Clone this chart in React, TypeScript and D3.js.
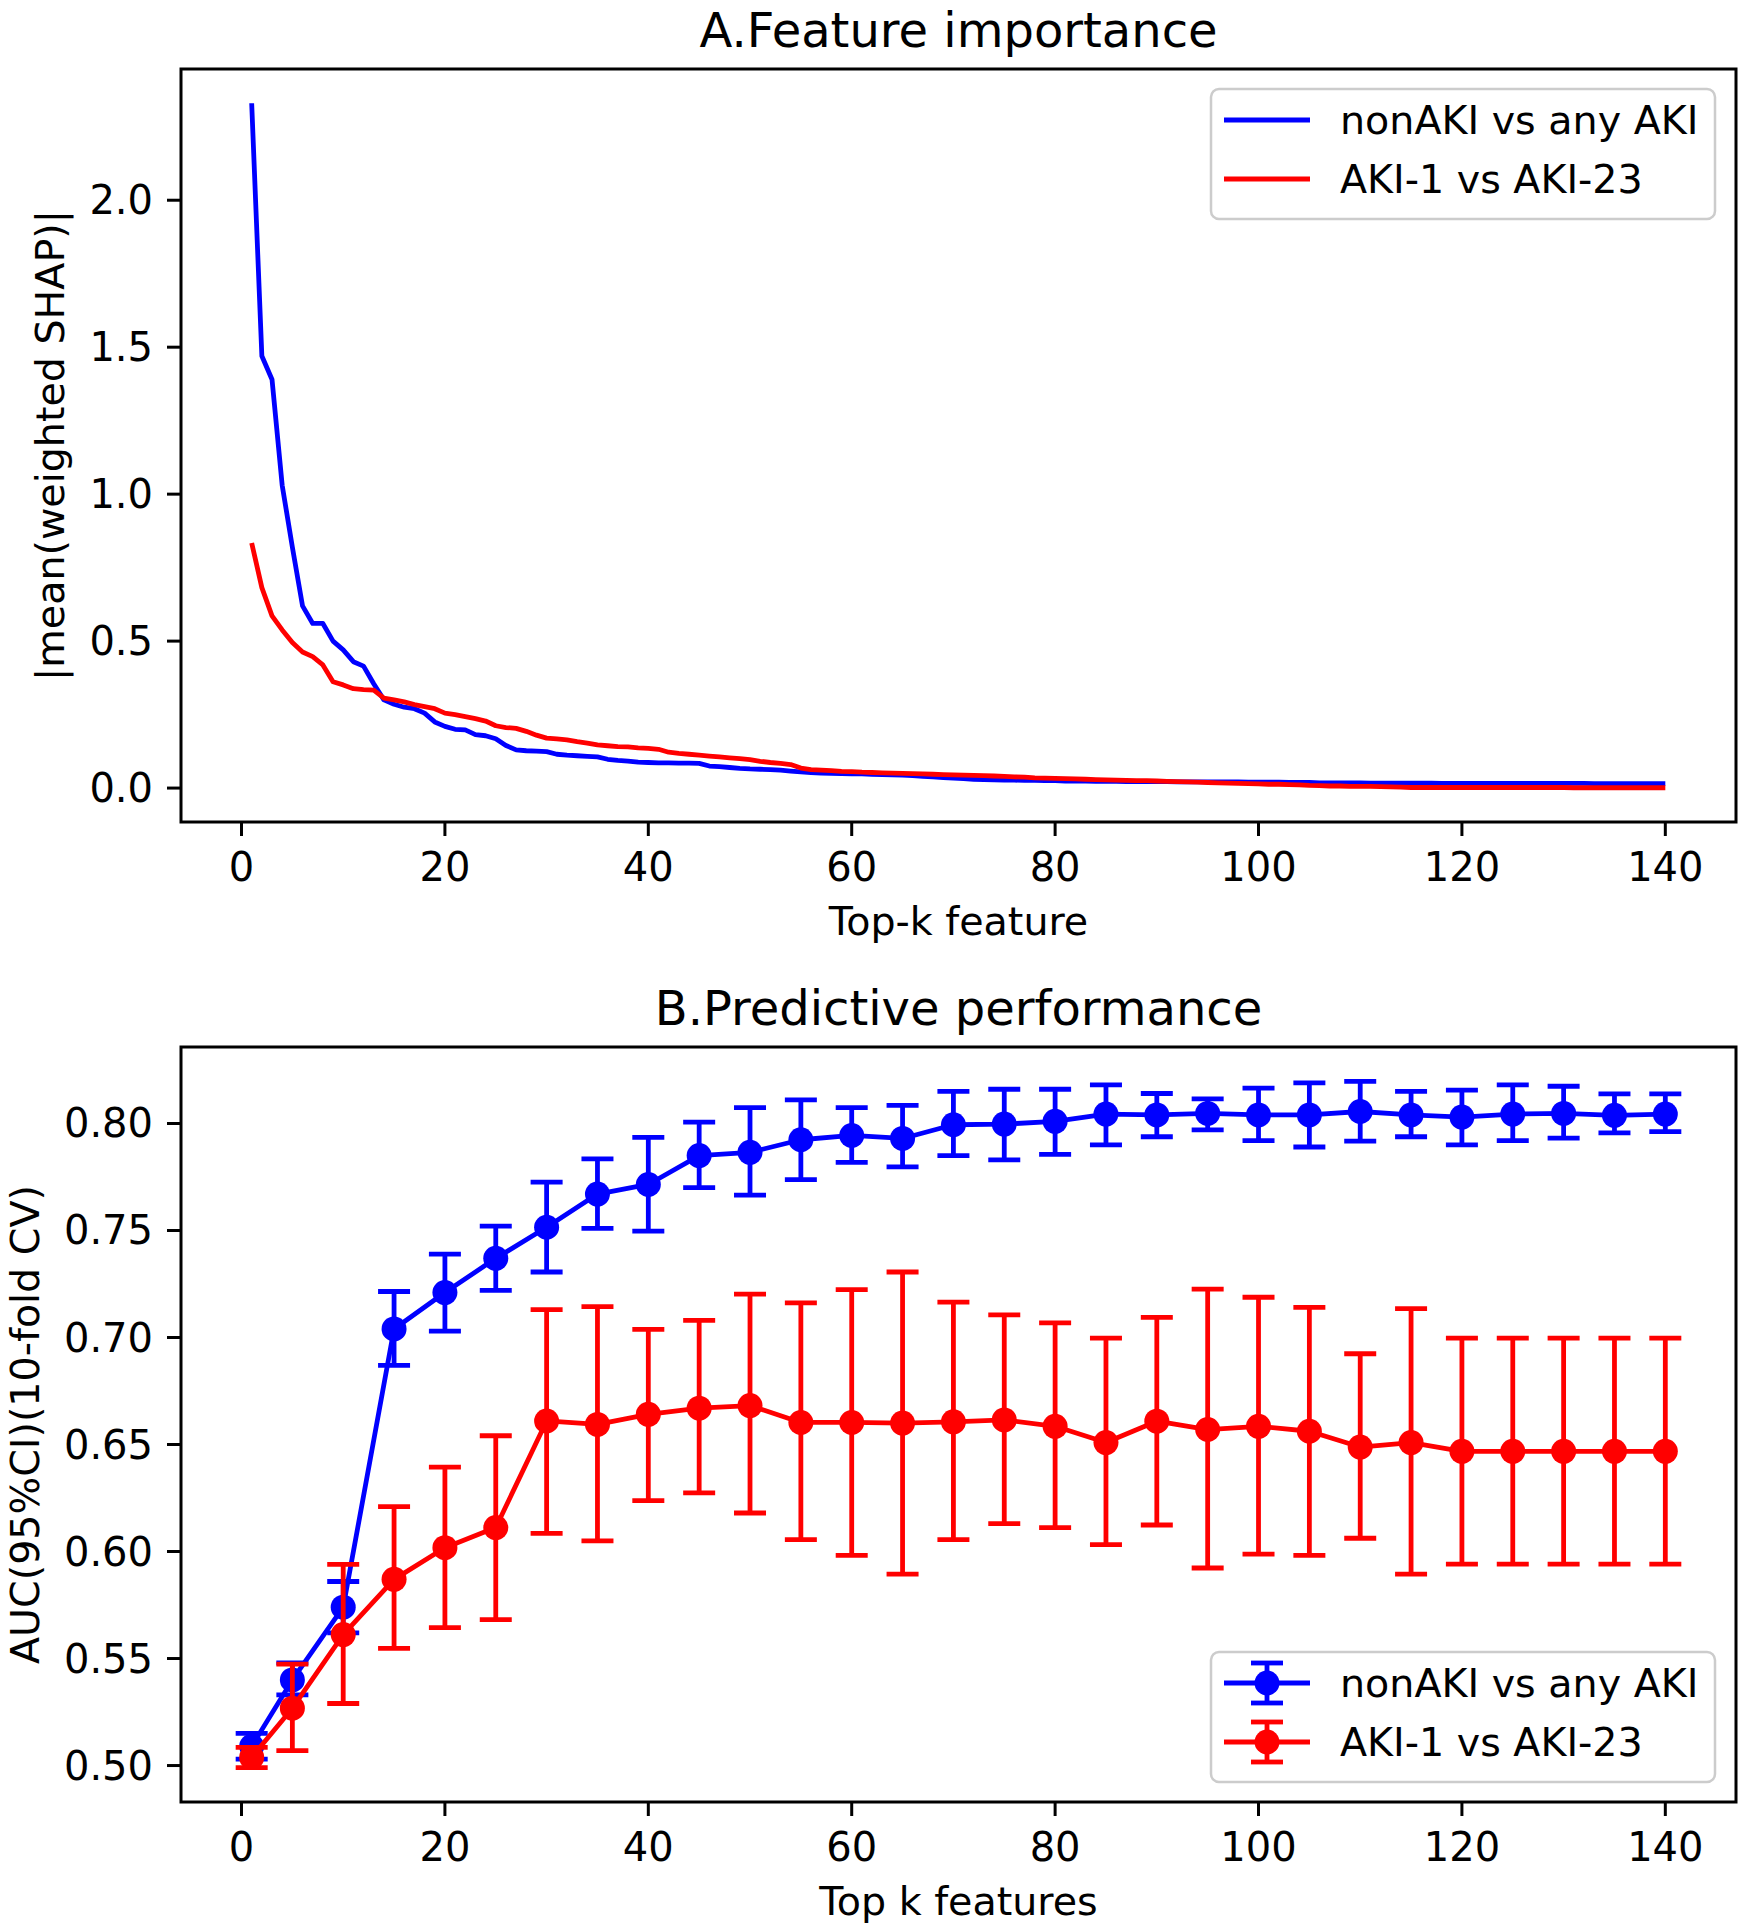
import React from "react";
import * as d3 from "d3";

// ---- data ----
const topK = d3.range(1, 141);

// panel A: |mean(weighted SHAP)| for the top-k feature
const shapNonAki = [
  2.33, 1.47, 1.39, 1.03, 0.82, 0.62, 0.56, 0.56, 0.5, 0.47,
  0.43, 0.415, 0.355, 0.3, 0.285, 0.275, 0.27, 0.255, 0.225, 0.21,
  0.2, 0.198, 0.182, 0.178, 0.168, 0.145, 0.13, 0.127, 0.126, 0.124,
  0.115, 0.112, 0.11, 0.108, 0.106, 0.098, 0.094, 0.092, 0.088, 0.087,
  0.086, 0.086, 0.085, 0.085, 0.084, 0.075, 0.073, 0.07, 0.067, 0.065,
  0.064, 0.063, 0.061, 0.058, 0.055, 0.053, 0.051, 0.05, 0.049, 0.048,
  0.048, 0.047, 0.046, 0.045, 0.044, 0.042, 0.04, 0.038, 0.036, 0.034,
  0.032, 0.03, 0.029, 0.028, 0.027, 0.027, 0.026, 0.026, 0.025, 0.025,
  0.024, 0.024, 0.024, 0.023, 0.023, 0.023, 0.022, 0.022, 0.022, 0.022,
  0.022, 0.021, 0.021, 0.021, 0.021, 0.021, 0.021, 0.021, 0.02, 0.02,
  0.02, 0.02, 0.019, 0.019, 0.019, 0.018, 0.018, 0.018, 0.018, 0.018,
  0.017, 0.017, 0.017, 0.017, 0.017, 0.017, 0.017, 0.016, 0.016, 0.016,
  0.016, 0.016, 0.016, 0.016, 0.016, 0.016, 0.016, 0.016, 0.016, 0.016,
  0.016, 0.016, 0.015, 0.015, 0.015, 0.015, 0.015, 0.015, 0.015, 0.015,
];
const shapAki1 = [
  0.834, 0.682, 0.586, 0.538, 0.495, 0.463, 0.447, 0.419, 0.362, 0.351,
  0.338, 0.335, 0.333, 0.306, 0.3, 0.293, 0.284, 0.277, 0.27, 0.255,
  0.25, 0.243, 0.236, 0.228, 0.212, 0.206, 0.203, 0.193, 0.18, 0.17,
  0.167, 0.164, 0.158, 0.153, 0.147, 0.144, 0.141, 0.14, 0.137, 0.135,
  0.132, 0.122, 0.118, 0.115, 0.112, 0.109, 0.106, 0.103, 0.1, 0.097,
  0.091, 0.087, 0.084, 0.08, 0.068, 0.063, 0.061, 0.059, 0.057, 0.056,
  0.054, 0.053, 0.052, 0.051, 0.05, 0.049, 0.048, 0.047, 0.046, 0.045,
  0.044, 0.043, 0.042, 0.041, 0.04, 0.038, 0.037, 0.035, 0.034, 0.033,
  0.032, 0.031, 0.03, 0.029, 0.028, 0.027, 0.026, 0.025, 0.025, 0.024,
  0.023, 0.022, 0.021, 0.02, 0.019, 0.018, 0.017, 0.016, 0.015, 0.014,
  0.013, 0.013, 0.012, 0.011, 0.009, 0.008, 0.007, 0.007, 0.006, 0.006,
  0.006, 0.005, 0.004, 0.003, 0.002, 0.002, 0.002, 0.002, 0.002, 0.002,
  0.002, 0.002, 0.002, 0.002, 0.002, 0.002, 0.002, 0.002, 0.002, 0.002,
  0.001, 0.001, 0.001, 0.001, 0.001, 0.001, 0.001, 0.001, 0.001, 0.001,
];

// panel B: AUC with 95% CI
const kSteps = [1, 5, 10, 15, 20, 25, 30, 35, 40, 45, 50, 55, 60, 65, 70, 75, 80, 85, 90, 95, 100, 105, 110, 115, 120, 125, 130, 135, 140];
const aucNonAki = [0.509, 0.54, 0.574, 0.704, 0.721, 0.737, 0.7515, 0.767, 0.7715, 0.785, 0.7865, 0.7924, 0.7944, 0.793, 0.7994, 0.7997, 0.801, 0.8044, 0.804, 0.8047, 0.804, 0.804, 0.8056, 0.804, 0.803, 0.8044, 0.8047, 0.8038, 0.8044];
const hiNonAki = [0.515, 0.548, 0.586, 0.7215, 0.739, 0.752, 0.7726, 0.7835, 0.7935, 0.8006, 0.8074, 0.811, 0.8074, 0.8085, 0.815, 0.816, 0.816, 0.818, 0.814, 0.8115, 0.8165, 0.819, 0.8197, 0.815, 0.8156, 0.818, 0.8174, 0.8138, 0.8138];
const loNonAki = [0.503, 0.533, 0.562, 0.687, 0.703, 0.722, 0.7306, 0.751, 0.7497, 0.77, 0.7665, 0.7738, 0.7818, 0.7797, 0.785, 0.783, 0.7856, 0.79, 0.7938, 0.797, 0.792, 0.789, 0.7918, 0.7938, 0.79, 0.792, 0.7932, 0.7956, 0.7962];
const aucAki1 = [0.5038, 0.5268, 0.5612, 0.587, 0.6018, 0.6112, 0.661, 0.6594, 0.6641, 0.667, 0.6682, 0.6603, 0.6603, 0.66, 0.6606, 0.6615, 0.6585, 0.6509, 0.6609, 0.657, 0.6585, 0.6562, 0.6488, 0.6509, 0.6468, 0.6468, 0.6468, 0.6468, 0.6468];
const hiAki1 = [0.5085, 0.5474, 0.594, 0.621, 0.6394, 0.6541, 0.713, 0.7144, 0.7038, 0.708, 0.7203, 0.7162, 0.7224, 0.7306, 0.7165, 0.7106, 0.7068, 0.6997, 0.7094, 0.7226, 0.7188, 0.7141, 0.6924, 0.7135, 0.6997, 0.6997, 0.6997, 0.6997, 0.6997];
const loAki1 = [0.499, 0.507, 0.529, 0.5547, 0.5644, 0.5682, 0.6085, 0.605, 0.6238, 0.6274, 0.618, 0.6056, 0.5982, 0.5894, 0.6056, 0.613, 0.6112, 0.6032, 0.6124, 0.5923, 0.5988, 0.5982, 0.6062, 0.5894, 0.5941, 0.5941, 0.5941, 0.5941, 0.5941];

const xTicks = [0, 20, 40, 60, 80, 100, 120, 140];
const shapTicks = [0, 0.5, 1, 1.5, 2];
const aucTicks = [0.5, 0.55, 0.6, 0.65, 0.7, 0.75, 0.8];
const seriesNames = ["nonAKI vs any AKI", "AKI-1 vs AKI-23"];

// ---- layout ----
const W = 1747;
const H = 1932;
const LEFT = 181;
const RIGHT = 1736;
const A = { top: 69, bottom: 822 };
const B = { top: 1047, bottom: 1802 };
const FONT = "DejaVu Sans, Verdana, sans-serif";
const BLUE = "#0000ff";
const RED = "#ff0000";
const LW = 4.8;

// matplotlib style 5% margins
const pad = (lo: number, hi: number): [number, number] => {
  const m = (hi - lo) * 0.05;
  return [lo - m, hi + m];
};

const xScale = d3.scaleLinear().domain(pad(1, 140)).range([LEFT, RIGHT]);
const yA = d3
  .scaleLinear()
  .domain(pad(d3.min([...shapNonAki, ...shapAki1])!, d3.max([...shapNonAki, ...shapAki1])!))
  .range([A.bottom, A.top]);
const yB = d3
  .scaleLinear()
  .domain(pad(d3.min([...loNonAki, ...loAki1])!, d3.max([...hiNonAki, ...hiAki1])!))
  .range([B.bottom, B.top]);

function Axes({ top, bottom, yScale, yTicks, yFmt, title, xLabel, yLabel, yLabelX, children }: any) {
  const cx = (LEFT + RIGHT) / 2;
  const cy = (top + bottom) / 2;
  return (
    <g>
      {children}
      <rect x={LEFT} y={top} width={RIGHT - LEFT} height={bottom - top} fill="none" stroke="#000" strokeWidth={3} />
      {xTicks.map((t) => (
        <g key={"x" + t}>
          <line x1={xScale(t)} x2={xScale(t)} y1={bottom} y2={bottom + 14} stroke="#000" strokeWidth={3} />
          <text x={xScale(t)} y={bottom + 59} textAnchor="middle" fontSize={40}>
            {t}
          </text>
        </g>
      ))}
      {yTicks.map((t: number) => (
        <g key={"y" + t}>
          <line x1={LEFT - 14} x2={LEFT} y1={yScale(t)} y2={yScale(t)} stroke="#000" strokeWidth={3} />
          <text x={LEFT - 28} y={yScale(t) + 14} textAnchor="end" fontSize={40}>
            {d3.format(yFmt)(t)}
          </text>
        </g>
      ))}
      <text x={cx} y={top - 22} textAnchor="middle" fontSize={48}>
        {title}
      </text>
      <text x={cx} y={bottom + 113} textAnchor="middle" fontSize={39.6}>
        {xLabel}
      </text>
      <text transform={`translate(${yLabelX},${cy}) rotate(-90)`} textAnchor="middle" fontSize={39.6}>
        {yLabel}
      </text>
    </g>
  );
}

function LegendBox({ y, children }: any) {
  return (
    <g>
      <rect x={RIGHT - 21 - 504} y={y} width={504} height={130} rx={8} fill="#fff" fillOpacity={0.8} stroke="#cccccc" strokeWidth={2.5} />
      {children}
    </g>
  );
}

function ErrSeries({ auc, lo, hi, color }: any) {
  const line = d3
    .line<number>()
    .x((_, i) => xScale(kSteps[i]))
    .y((d) => yB(d));
  return (
    <g>
      <path d={line(auc) ?? ""} fill="none" stroke={color} strokeWidth={LW} strokeLinejoin="round" />
      {kSteps.map((k, i) => {
        const x = xScale(k);
        return (
          <g key={k} stroke={color} strokeWidth={LW}>
            <line x1={x} x2={x} y1={yB(lo[i])} y2={yB(hi[i])} />
            <line x1={x - 16} x2={x + 16} y1={yB(lo[i])} y2={yB(lo[i])} />
            <line x1={x - 16} x2={x + 16} y1={yB(hi[i])} y2={yB(hi[i])} />
          </g>
        );
      })}
      {kSteps.map((k, i) => (
        <circle key={"m" + k} cx={xScale(k)} cy={yB(auc[i])} r={12.5} fill={color} />
      ))}
    </g>
  );
}

export default function App() {
  const shapLine = d3
    .line<number>()
    .x((_, i) => xScale(topK[i]))
    .y((d) => yA(d));

  const legA = A.top + 20;
  const legB = B.bottom - 20 - 130;
  const lx0 = RIGHT - 21 - 504 + 13;
  const lx1 = lx0 + 86;
  const tx = RIGHT - 21 - 504 + 129;
  const colors = [BLUE, RED];

  return (
    <svg
      width={W}
      height={H}
      viewBox={`0 0 ${W} ${H}`}
      style={{ position: "absolute", left: 0, top: 0, background: "#fff" }}
      fontFamily={FONT}
      fill="#000"
    >
      <rect width={W} height={H} fill="#fff" />

      <Axes
        top={A.top}
        bottom={A.bottom}
        yScale={yA}
        yTicks={shapTicks}
        yFmt=".1f"
        title="A.Feature importance"
        xLabel="Top-k feature"
        yLabel="|mean(weighted SHAP)|"
        yLabelX={64}
      >
        <path d={shapLine(shapNonAki) ?? ""} fill="none" stroke={BLUE} strokeWidth={LW} strokeLinejoin="round" />
        <path d={shapLine(shapAki1) ?? ""} fill="none" stroke={RED} strokeWidth={LW} strokeLinejoin="round" />
      </Axes>
      <LegendBox y={legA}>
        {seriesNames.map((name, i) => {
          const cy = legA + 31 + i * 59;
          return (
            <g key={name}>
              <line x1={lx0} x2={lx1} y1={cy} y2={cy} stroke={colors[i]} strokeWidth={LW} />
              <text x={tx} y={cy + 14} fontSize={39.6}>
                {name}
              </text>
            </g>
          );
        })}
      </LegendBox>

      <Axes
        top={B.top}
        bottom={B.bottom}
        yScale={yB}
        yTicks={aucTicks}
        yFmt=".2f"
        title="B.Predictive performance"
        xLabel="Top k features"
        yLabel="AUC(95%CI)(10-fold CV)"
        yLabelX={39}
      >
        <ErrSeries auc={aucNonAki} lo={loNonAki} hi={hiNonAki} color={BLUE} />
        <ErrSeries auc={aucAki1} lo={loAki1} hi={hiAki1} color={RED} />
      </Axes>
      <LegendBox y={legB}>
        {seriesNames.map((name, i) => {
          const cy = legB + 31 + i * 59;
          const mx = (lx0 + lx1) / 2;
          return (
            <g key={name}>
              <g stroke={colors[i]} strokeWidth={LW}>
                <line x1={lx0} x2={lx1} y1={cy} y2={cy} />
                <line x1={mx} x2={mx} y1={cy - 20} y2={cy + 20} />
                <line x1={mx - 16} x2={mx + 16} y1={cy - 20} y2={cy - 20} />
                <line x1={mx - 16} x2={mx + 16} y1={cy + 20} y2={cy + 20} />
              </g>
              <circle cx={mx} cy={cy} r={12.5} fill={colors[i]} />
              <text x={tx} y={cy + 14} fontSize={39.6}>
                {name}
              </text>
            </g>
          );
        })}
      </LegendBox>
    </svg>
  );
}
